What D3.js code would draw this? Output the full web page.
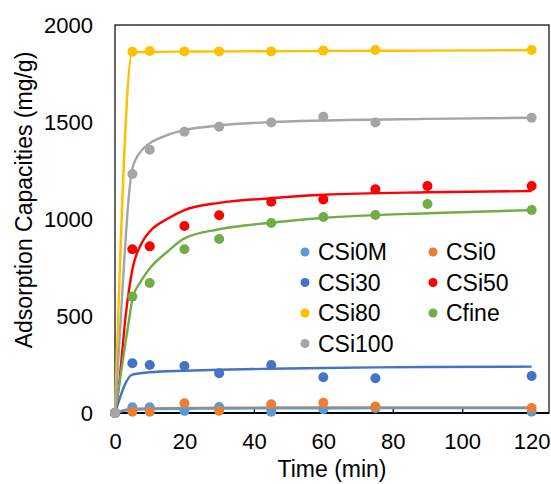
<!DOCTYPE html>
<html>
<head>
<meta charset="utf-8">
<script src="https://cdn.jsdelivr.net/npm/d3@7"></script>
<style>
  body { margin: 0; background: #fff; }
  svg { font-family: "Liberation Sans", Arial, sans-serif; }
</style>
</head>
<body>
<svg id="chart" width="551" height="484"></svg>
<script>
// ---- data ----
const seriesNames = ["CSi0M", "CSi0", "CSi30", "CSi50", "CSi80", "Cfine", "CSi100"]

// sampling times (min)
const times = [0, 5, 10, 20, 30, 45, 60, 75, 120]
const timesWith90 = [0, 5, 10, 20, 30, 45, 60, 75, 90, 120]

// measured adsorption capacities (mg/g)
const csi0m = [0, 29, 29, 10, 31, 7, 19, 25, 7]
const csi0 = [0, 7, 7, 50, 12, 45, 53, 33, 26]
const csi30 = [0, 256, 247, 242, 205, 247, 184, 179, 191]
const csi50 = [0, 844, 859, 964, 1019, 1089, 1101, 1153, 1170, 1170]
const csi80 = [0, 1862, 1866, 1864, 1864, 1864, 1868, 1871, 1871]
const cfine = [0, 600, 670, 844, 897, 979, 1010, 1021, 1077, 1046]
const csi100 = [0, 1232, 1357, 1450, 1476, 1497, 1527, 1497, 1522]

// kinetic fit curves
const fitTimesFine = [0, 1, 2, 3, 4, 5, 7.5, 10, 15, 20, 30, 45, 60, 90, 120]
const fitTimesCoarse = [0, 5, 10, 20, 30, 45, 60, 75, 90, 120]
const fitCsi0m = [0, 18, 20, 22, 23, 24, 24, 25, 25, 25]
const fitCsi0 = [0, 22, 24, 26, 27, 28, 28, 29, 29, 29]
const fitCsi30 = [0, 198, 210, 218, 223, 228, 232, 235, 237, 239]
const fitCsi50 = [0, 120, 300, 490, 630, 740, 870, 935, 1000, 1046, 1083, 1107, 1125, 1138, 1144]
const fitCsi80 = [0, 1858, 1861, 1863, 1864, 1865, 1866, 1867, 1868, 1870]
const fitCfine = [0, 120, 240, 360, 475, 585, 680, 745, 830, 900, 947, 981, 1005, 1030, 1046]
const fitCsi100 = [0, 290, 590, 880, 1120, 1260, 1350, 1390, 1432, 1458, 1482, 1500, 1508, 1516, 1522]

// axis ticks
const xTicks = [0, 20, 40, 60, 80, 100, 120]
const yTicks = [0, 500, 1000, 1500, 2000]

// ---- setup ----
const svg = d3.select("#chart")
const plot = { left: 115, top: 25, right: 549, bottom: 413 }

const color = d3.scaleOrdinal()
  .domain(seriesNames)
  .range(["#5B9BD5", "#ED7D31", "#4472C4", "#FF0000", "#FFC000", "#70AD47", "#A5A5A5"])

const x = d3.scaleLinear().domain([0, 125]).range([plot.left, plot.right])
const y = d3.scaleLinear().domain([0, 2000]).range([plot.bottom, plot.top])

const zip = (ts, vs) => ts.map((t, i) => ({ t, v: vs[i] }))

const measured = [
  { name: "CSi0M", pts: zip(times, csi0m) },
  { name: "CSi0", pts: zip(times, csi0) },
  { name: "CSi30", pts: zip(times, csi30) },
  { name: "CSi50", pts: zip(timesWith90, csi50) },
  { name: "CSi80", pts: zip(times, csi80) },
  { name: "Cfine", pts: zip(timesWith90, cfine) },
  { name: "CSi100", pts: zip(times, csi100) }
]

// orange first so the light blue fit sits on top of it
const fits = [
  { name: "CSi0", pts: zip(fitTimesCoarse, fitCsi0) },
  { name: "CSi0M", pts: zip(fitTimesCoarse, fitCsi0m) },
  { name: "CSi30", pts: zip(fitTimesCoarse, fitCsi30) },
  { name: "CSi50", pts: zip(fitTimesFine, fitCsi50) },
  { name: "CSi80", pts: zip(fitTimesCoarse, fitCsi80) },
  { name: "Cfine", pts: zip(fitTimesFine, fitCfine) },
  { name: "CSi100", pts: zip(fitTimesFine, fitCsi100) }
]

// ---- axes ----
const xAxis = svg.append("g")
  .attr("transform", `translate(0,${plot.bottom})`)
  .call(d3.axisBottom(x).tickValues(xTicks).tickSizeInner(-5).tickSizeOuter(0).tickPadding(20))
xAxis.select(".domain").remove()
xAxis.selectAll(".tick line").attr("stroke", "#000").attr("stroke-width", 1.3)
xAxis.selectAll(".tick text").attr("font-size", 22).attr("fill", "#000")

const yAxis = svg.append("g")
  .attr("transform", `translate(${plot.left},0)`)
  .call(d3.axisLeft(y).tickValues(yTicks).tickFormat(d3.format("d")).tickSize(0).tickPadding(22))
yAxis.select(".domain").remove()
yAxis.selectAll(".tick text").attr("font-size", 22).attr("fill", "#000")

// plot frame
svg.append("rect")
  .attr("x", plot.left).attr("y", plot.top)
  .attr("width", plot.right - plot.left).attr("height", plot.bottom - plot.top)
  .attr("fill", "none").attr("stroke", "#000").attr("stroke-width", 1.2)
svg.append("line")
  .attr("x1", plot.left).attr("x2", plot.right)
  .attr("y1", plot.bottom).attr("y2", plot.bottom)
  .attr("stroke", "#000").attr("stroke-width", 2)

// axis titles
svg.append("text")
  .attr("x", (plot.left + plot.right) / 2)
  .attr("y", 477)
  .attr("text-anchor", "middle")
  .attr("font-size", 23)
  .text("Time (min)")

svg.append("text")
  .attr("transform", "translate(32,200) rotate(-90)")
  .attr("text-anchor", "middle")
  .attr("font-size", 23)
  .text("Adsorption Capacities (mg/g)")

// ---- fit curves ----
const line = d3.line()
  .x(d => x(d.t))
  .y(d => y(d.v))
  .curve(d3.curveMonotoneX)

svg.append("g").selectAll("path")
  .data(fits)
  .join("path")
  .attr("d", d => line(d.pts))
  .attr("fill", "none")
  .attr("stroke", d => color(d.name))
  .attr("stroke-width", 2.4)

// ---- measured points ----
const groups = svg.append("g").selectAll("g")
  .data(measured)
  .join("g")
  .attr("fill", d => color(d.name))

groups.selectAll("circle")
  .data(d => d.pts)
  .join("circle")
  .attr("cx", d => x(d.t))
  .attr("cy", d => y(d.v))
  .attr("r", 5)

// ---- legend ----
const legend = svg.append("g")
  .selectAll("g")
  .data(seriesNames)
  .join("g")
  .attr("transform", (d, i) => `translate(${305 + (i % 2) * 128},${252 + Math.floor(i / 2) * 30.5})`)

legend.append("circle")
  .attr("r", 4.5)
  .attr("fill", d => color(d))

legend.append("text")
  .attr("x", 13)
  .attr("dy", "0.36em")
  .attr("font-size", 23)
  .text(d => d)
</script>
</body>
</html>
